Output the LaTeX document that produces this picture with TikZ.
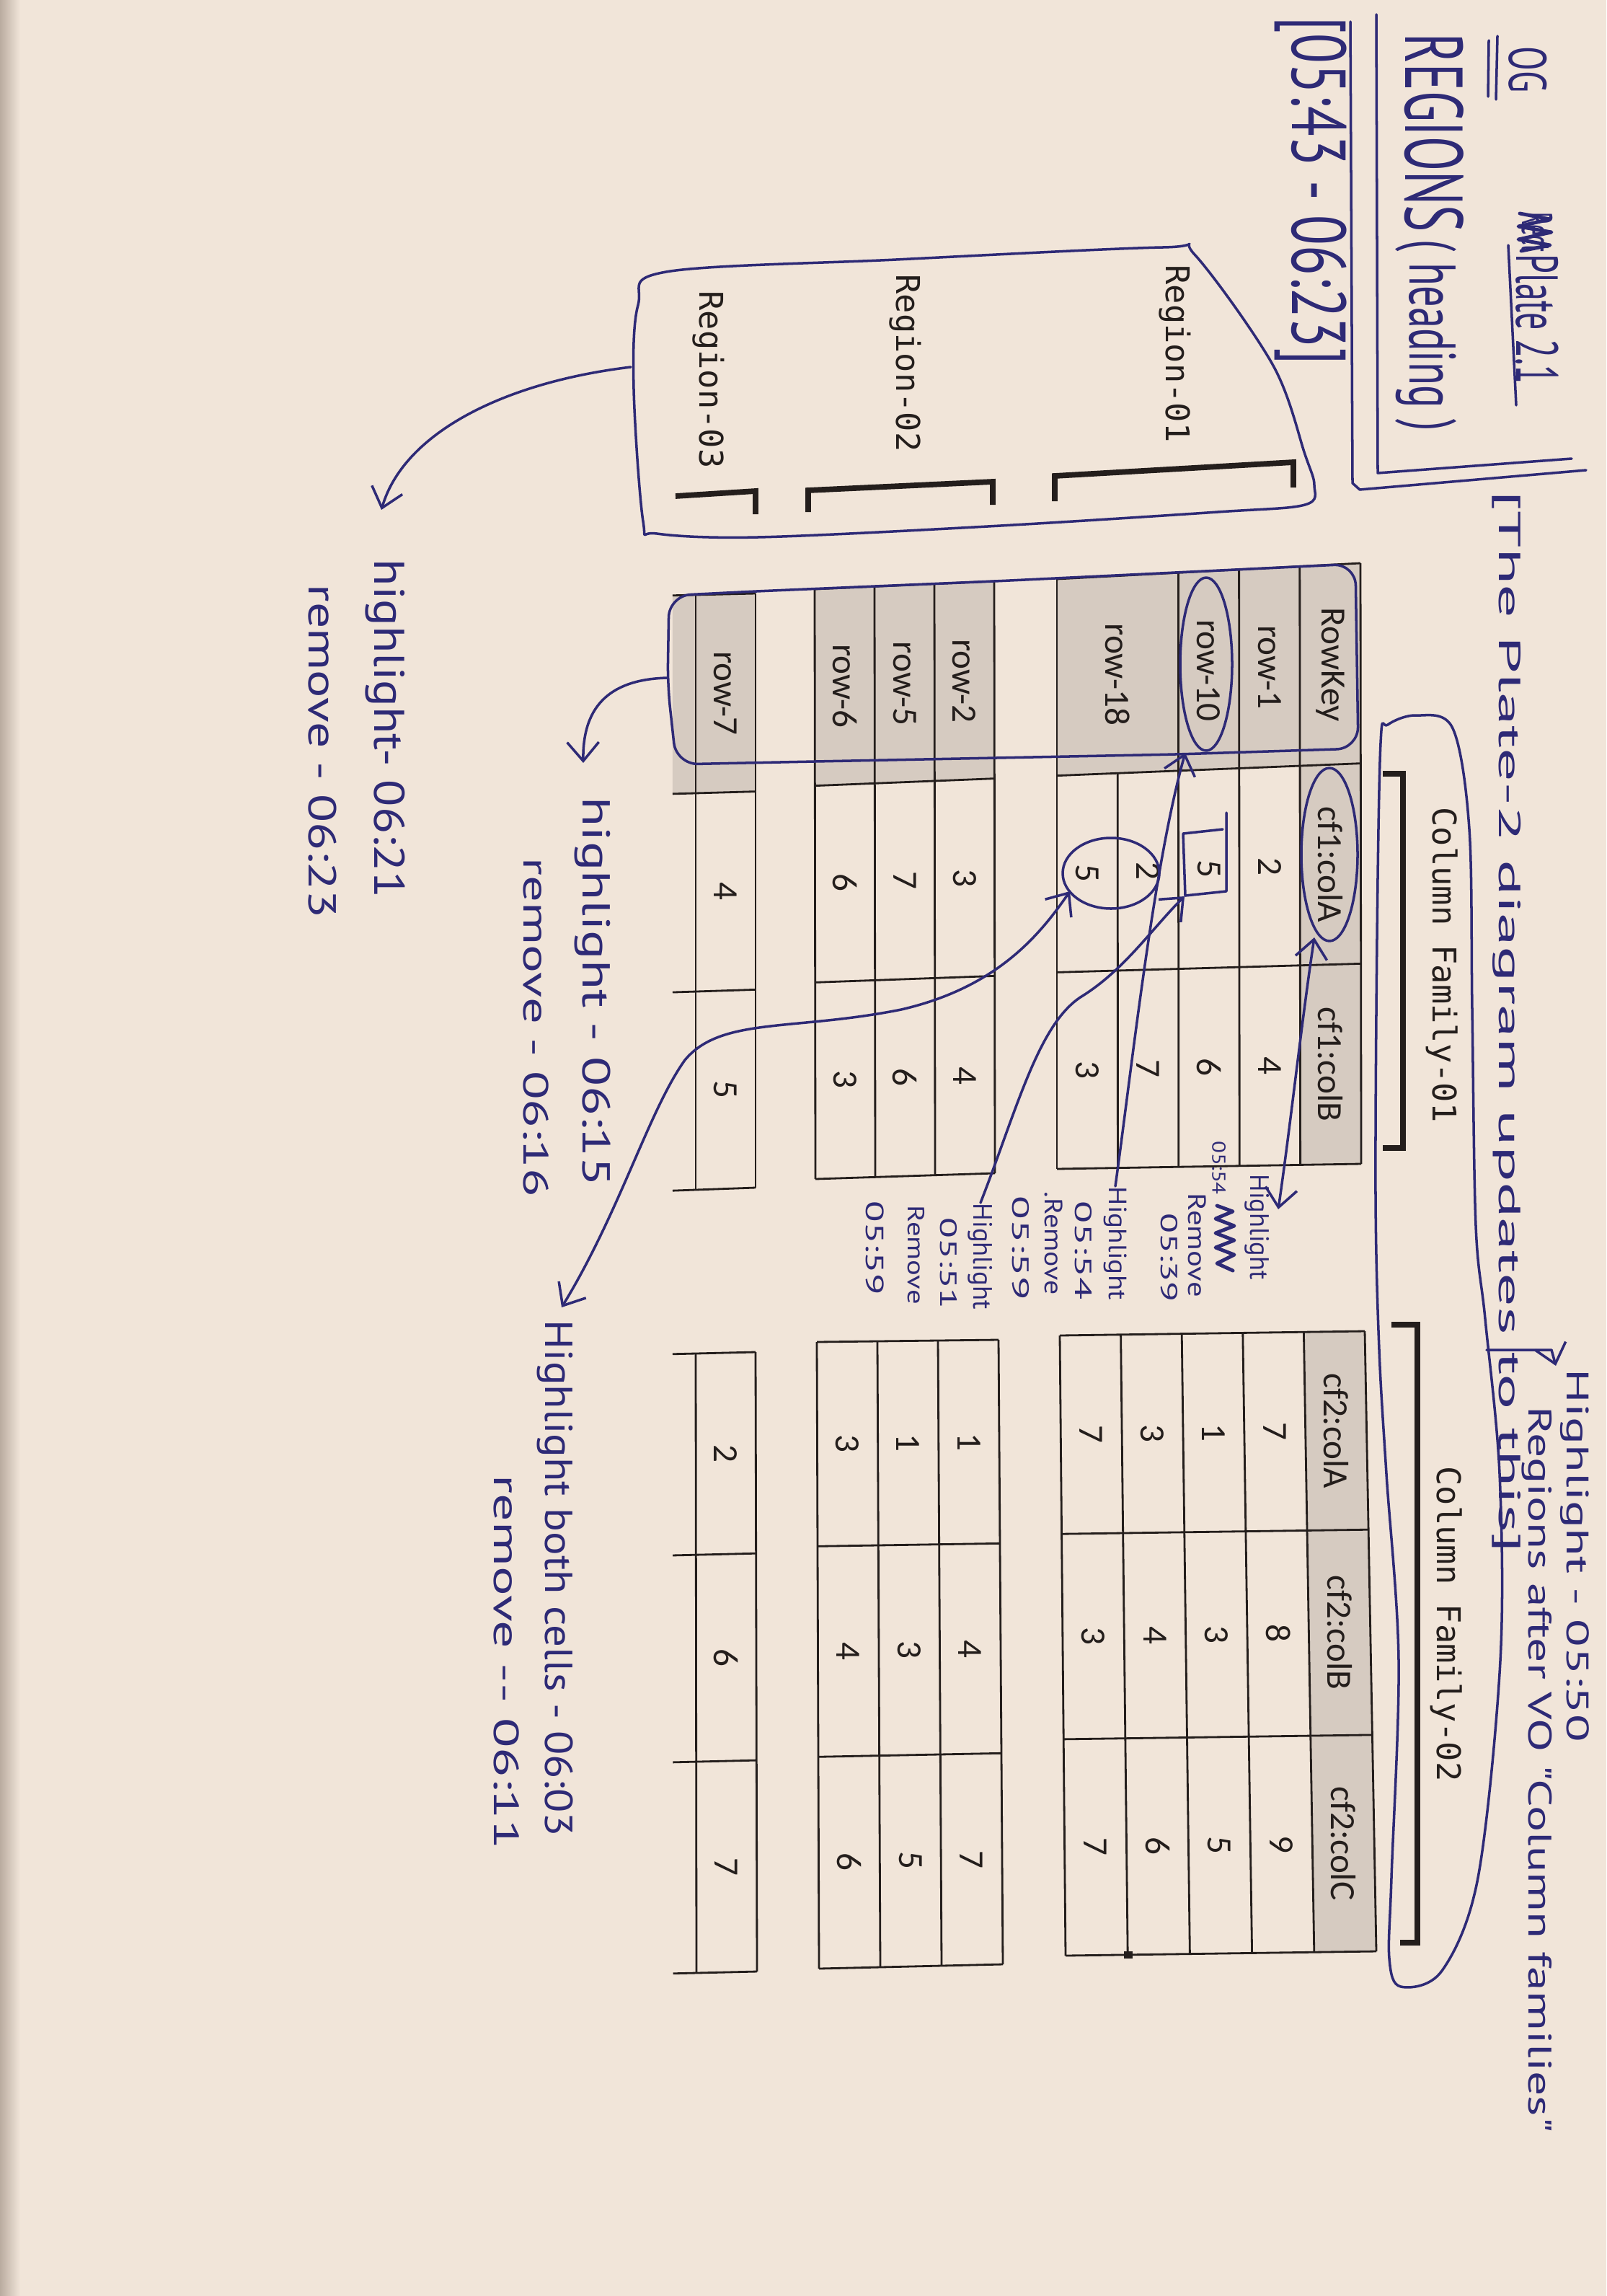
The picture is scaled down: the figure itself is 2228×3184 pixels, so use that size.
\documentclass[tikz,border=0pt]{standalone}
\usepackage{fontspec}
\usepackage{graphicx}
\setmainfont{PT Sans}
\newfontfamily\tabfont{Carlito}
\newfontfamily\monofnt{DejaVu Sans Mono}
\newfontfamily\handfnt{PT Sans}
\usetikzlibrary{calc,arrows.meta}
\newlength\pxu
\setlength\pxu{0.1mm}
\definecolor{paper}{RGB}{241,229,217}
\definecolor{paperedge}{RGB}{186,172,160}
\definecolor{cellgray}{RGB}{214,203,193}
\definecolor{print}{RGB}{36,30,28}
\definecolor{ink}{RGB}{46,42,118}
% handwritten text scaled to a given length and total height (in px units)
\newcommand\hw[3]{\resizebox*{#1\pxu}{#2\pxu}{\handfnt\vphantom{Hg}#3}}
% a printed table block given by its four corners
\newcommand\blk[5]{\coordinate (#1TL) at (#2);\coordinate (#1TR) at (#3);\coordinate (#1BL) at (#4);\coordinate (#1BR) at (#5);}
\newcommand\rowln[4]{\path ($(#1TL)!#2!(#1BL)$) coordinate (qa) ($(#1TR)!#2!(#1BR)$) coordinate (qb);\draw[tline] ($(qa)!#3!(qb)$) -- ($(qa)!#4!(qb)$);}
\newcommand\colln[4]{\path ($(#1TL)!#2!(#1TR)$) coordinate (qa) ($(#1BL)!#2!(#1BR)$) coordinate (qb);\draw[tline] ($(qa)!#3!(qb)$) -- ($(qa)!#4!(qb)$);}
\newcommand\shadecell[5]{\path ($(#1TL)!#2!(#1BL)$) coordinate (qa) ($(#1TR)!#2!(#1BR)$) coordinate (qb) ($(#1TL)!#3!(#1BL)$) coordinate (qc) ($(#1TR)!#3!(#1BR)$) coordinate (qd);\fill[cellgray] ($(qa)!#4!(qb)$) -- ($(qa)!#5!(qb)$) -- ($(qc)!#5!(qd)$) -- ($(qc)!#4!(qd)$) -- cycle;}
\newcommand\celltxt[5]{\path ($(#1TL)!#2!(#1BL)$) coordinate (qa) ($(#1TR)!#2!(#1BR)$) coordinate (qb);\node[cell] (#4) at ($(qa)!#3!(qb)$) {#5};}
\begin{document}
\begin{tikzpicture}[x=0.1mm, y=-0.1mm,
  tline/.style={draw=print, line width=0.8pt},
  brk/.style={draw=print, line width=2.2pt},
  cell/.style={rotate=-90, inner sep=0, text=print, font=\fontsize{14}{16}\selectfont\tabfont},
  monolbl/.style={rotate=-90, inner sep=0, text=print, font=\fontsize{12.9}{15}\selectfont\monofnt},
  hand/.style={rotate=-90, inner sep=0, anchor=west, text=ink},
  inkline/.style={draw=ink, line width=1pt, line cap=round, line join=round},
  inkarr/.style={inkline, -{Straight Barb[length=2.6mm,width=4.4mm]}},
  inkarrs/.style={inkline, {Straight Barb[length=2.6mm,width=4.4mm]}-{Straight Barb[length=2.6mm,width=4.4mm]}}]

% paper
\useasboundingbox (0,0) rectangle (2228,3184);
\fill[paper] (0,0) rectangle (2228,3184);
\shade[left color=paperedge, right color=paper] (0,0) rectangle (28,3184);

% ---------- printed tables ----------
\blk{A1}{1887,781}{1888,1614}{1466,803}{1466,1621}
\blk{A2}{1379,806}{1380,1627}{1130,817}{1131,1635}
\blk{A3}{1048,823}{1048,1647}{965,825}{965,1650}
\blk{B1}{1893,1846}{1909,2706}{1470,1852}{1478,2712}
\blk{B2}{1385,1858}{1391,2724}{1133,1861}{1136,2730}
\blk{B3}{1048,1875}{1050,2734}{965,1877}{966,2736}

% shaded header and row-key cells
\shadecell{A1}{0}{0.2}{0}{1}
\shadecell{A1}{0.2}{1}{0}{0.3333}
\shadecell{A2}{0}{1}{0}{0.3333}
\shadecell{A3}{0}{1.386}{0}{0.3333}
\shadecell{B1}{0}{0.2}{0}{1}

% grid lines, column family 01
\foreach \f in {0,0.2,0.4,0.6,1} {\rowln{A1}{\f}{0}{1}}
\rowln{A1}{0.8}{0.3333}{1}
\foreach \f in {0,0.3333,0.6667,1} {\colln{A1}{\f}{0}{1}}
\foreach \f in {0,0.3333,0.6667,1} {\rowln{A2}{\f}{0}{1}\colln{A2}{\f}{0}{1}}
\rowln{A3}{0}{0}{1}
\rowln{A3}{1}{0}{1}
\foreach \f in {0,0.3333,0.6667,1} {\colln{A3}{\f}{0}{1.386}}
% grid lines, column family 02
\foreach \f in {0,0.2,0.4,0.6,0.8,1} {\rowln{B1}{\f}{0}{1}}
\foreach \f in {0,0.32,0.651,1} {\colln{B1}{\f}{0}{1}}
\fill[print] (1559,2706) rectangle (1571,2716);
\foreach \f in {0,0.3333,0.6667,1} {\rowln{B2}{\f}{0}{1}}
\foreach \f in {0,0.326,0.662,1} {\colln{B2}{\f}{0}{1}}
\rowln{B3}{0}{0}{1}
\rowln{B3}{1}{0}{1}
\foreach \f in {0,0.325,0.659,1} {\colln{B3}{\f}{0}{1.386}}

% cell texts, column family 01
\celltxt{A1}{0.1}{0.1667}{a-rowkey}{RowKey}
\celltxt{A1}{0.1}{0.5}{a-cf1a}{cf1:colA}
\celltxt{A1}{0.1}{0.8333}{a-cf1b}{cf1:colB}
\celltxt{A1}{0.3}{0.1667}{a-row1}{row-1}
\celltxt{A1}{0.3}{0.5}{a-r1a}{2}
\celltxt{A1}{0.3}{0.8333}{a-r1b}{4}
\celltxt{A1}{0.5}{0.1667}{a-row10}{row-10}
\celltxt{A1}{0.5}{0.5}{a-r10a}{5}
\celltxt{A1}{0.5}{0.8333}{a-r10b}{6}
\celltxt{A1}{0.8}{0.1667}{a-row18}{row-18}
\celltxt{A1}{0.7}{0.5}{a-r18a}{2}
\celltxt{A1}{0.7}{0.8333}{a-r18b}{7}
\celltxt{A1}{0.9}{0.5}{a-r18c}{5}
\celltxt{A1}{0.9}{0.8333}{a-r18d}{3}
\celltxt{A2}{0.1667}{0.1667}{a-row2}{row-2}
\celltxt{A2}{0.1667}{0.5}{a-r2a}{3}
\celltxt{A2}{0.1667}{0.8333}{a-r2b}{4}
\celltxt{A2}{0.5}{0.1667}{a-row5}{row-5}
\celltxt{A2}{0.5}{0.5}{a-r5a}{7}
\celltxt{A2}{0.5}{0.8333}{a-r5b}{6}
\celltxt{A2}{0.8333}{0.1667}{a-row6}{row-6}
\celltxt{A2}{0.8333}{0.5}{a-r6a}{6}
\celltxt{A2}{0.8333}{0.8333}{a-r6b}{3}
\celltxt{A3}{0.5}{0.1667}{a-row7}{row-7}
\celltxt{A3}{0.5}{0.5}{a-r7a}{4}
\celltxt{A3}{0.5}{0.8333}{a-r7b}{5}
% cell texts, column family 02
\celltxt{B1}{0.1}{0.16}{b-cf2a}{cf2:colA}
\celltxt{B1}{0.1}{0.4855}{b-cf2b}{cf2:colB}
\celltxt{B1}{0.1}{0.8255}{b-cf2c}{cf2:colC}
\celltxt{B1}{0.3}{0.16}{b-r1a}{7}
\celltxt{B1}{0.3}{0.4855}{b-r1b}{8}
\celltxt{B1}{0.3}{0.8255}{b-r1c}{9}
\celltxt{B1}{0.5}{0.16}{b-r10a}{1}
\celltxt{B1}{0.5}{0.4855}{b-r10b}{3}
\celltxt{B1}{0.5}{0.8255}{b-r10c}{5}
\celltxt{B1}{0.7}{0.16}{b-r18a}{3}
\celltxt{B1}{0.7}{0.4855}{b-r18b}{4}
\celltxt{B1}{0.7}{0.8255}{b-r18c}{6}
\celltxt{B1}{0.9}{0.16}{b-r18d}{7}
\celltxt{B1}{0.9}{0.4855}{b-r18e}{3}
\celltxt{B1}{0.9}{0.8255}{b-r18f}{7}
\celltxt{B2}{0.1667}{0.163}{b-r2a}{1}
\celltxt{B2}{0.1667}{0.494}{b-r2b}{4}
\celltxt{B2}{0.1667}{0.831}{b-r2c}{7}
\celltxt{B2}{0.5}{0.163}{b-r5a}{1}
\celltxt{B2}{0.5}{0.494}{b-r5b}{3}
\celltxt{B2}{0.5}{0.831}{b-r5c}{5}
\celltxt{B2}{0.8333}{0.163}{b-r6a}{3}
\celltxt{B2}{0.8333}{0.494}{b-r6b}{4}
\celltxt{B2}{0.8333}{0.831}{b-r6c}{6}
\celltxt{B3}{0.5}{0.1625}{b-r7a}{2}
\celltxt{B3}{0.5}{0.492}{b-r7b}{6}
\celltxt{B3}{0.5}{0.8295}{b-r7c}{7}

% region and column family labels with their brackets
\node[monolbl, anchor=west] (reg1) at (1630,367) {Region-01};
\node[monolbl, anchor=west] (reg2) at (1256,380) {Region-02};
\node[monolbl, anchor=west] (reg3) at (983,403) {Region-03};
\draw[brk] (1463,695) -- (1463,660) -- (1794,641) -- (1794,676);
\draw[brk] (1121,710) -- (1121,680) -- (1377,668) -- (1377,700);
\draw[brk] (937,688) -- (1048,681) -- (1048,713);
\node[monolbl] (cf1) at (2000,1338) {Column Family-01};
\node[monolbl] (cf2) at (2006,2252) {Column Family-02};
\draw[brk] (1918,1073) -- (1946,1073) -- (1946,1592) -- (1918,1592);
\draw[brk] (1930,1837) -- (1966,1837) -- (1966,2694) -- (1942,2694);

% ---------- handwritten notes ----------
% title block
\node[hand] (t-og) at (2112,64) {\hw{64}{68}{OG}};
\node[hand] (t-rect) at (2126,294) {\hw{55}{55}{Rect}};
\draw[inkline, line width=1.4pt] (2108,296) -- (2150,304) -- (2106,314) -- (2152,322) -- (2106,332) -- (2150,340) -- (2110,348);
\node[hand] (t-plate) at (2124,352) {\hw{180}{76}{Plate 2.1}};
\draw[inkline] (2077,50) -- (2075,138);
\draw[inkline] (2065,56) -- (2064,134);
\draw[inkline] (2092,340) -- (2103,562);
\node[hand] (t-regions) at (1978,46) {\hw{275}{105}{REGIONS}};
\node[hand] (t-heading) at (1978,332) {\hw{265}{85}{( heading )}};
\node[hand] (t-time) at (1818,23) {\hw{482}{100}{[05:43 - 06:23]}};
\draw[inkline] (1909,20) -- (1911,656) -- (2180,636);
\draw[inkline] (1873,30) -- (1876,670) -- (1886,679) -- (2200,652);
\node[hand] (t-update) at (2090,680) {\hw{1473}{40}{[The Plate-2 diagram updates to this]}};

% loop round the region labels, and its note
\draw[inkline] plot[smooth cycle, tension=0.55] coordinates {(924,377) (1243,360) (1613,343) (1657,353) (1766,507) (1810,630) (1823,673) (1810,700) (1689,710) (1370,730) (1051,745) (911,740) (892,723) (879,540) (885,423)};
\coordinate (blobOut) at (875,509);
\coordinate (tip0621) at (529,707);
\draw[inkarr] (blobOut) .. controls (700,530) and (560,600) .. (tip0621);
\node[hand] (hl0621) at (534,775) {\hw{470}{55}{highlight- 06:21}};
\node[hand] (rm0623) at (442,810) {\hw{463}{50}{remove - 06:23}};

% loop round the row keys, and its note
\draw[inkline, rounded corners=3mm] (1880,782) -- (1884,1038) -- (1634,1046) -- (1130,1056) -- (938,1060) -- (926,950) -- (928,826) -- (1048,820) -- (1380,806) -- cycle;
\coordinate (keyOut) at (926,940);
\coordinate (tip0615) at (809,1058);
\draw[inkarr] (keyOut) .. controls (840,942) and (808,985) .. (tip0615);
\node[hand] (hl0615) at (822,1105) {\hw{540}{50}{highlight - 06:15}};
\node[hand] (rm0616) at (739,1189) {\hw{470}{45}{remove - 06:16}};

% marks on the cells
\draw[inkline] (1673,921) ellipse [x radius=3.6mm, y radius=12mm];
\draw[inkline] (1844,1185) ellipse [x radius=3.9mm, y radius=12mm];
\draw[inkline] (1541,1211) ellipse [x radius=6.7mm, y radius=4.9mm];
\draw[inkline] (1701,1127) -- (1701,1236) -- (1644,1242) -- (1641,1156) -- (1696,1150);

% note for cf1:colA
\node[hand] (nA1) at (1744,1628) {\hw{146}{34}{Highlight}};
\draw[inkline, line width=1.4pt] (1688,1672) -- (1710,1680) -- (1686,1690) -- (1712,1700) -- (1686,1710) -- (1712,1720) -- (1686,1730) -- (1712,1740) -- (1688,1752) -- (1710,1762);
\node[hand] (nA2) at (1688,1582) {\hw{74}{24}{05:54}};
\node[hand] (nA3) at (1657,1654) {\hw{144}{32}{Remove}};
\node[hand] (nA4) at (1619,1682) {\hw{123}{30}{05:39}};
\coordinate (colAtip) at (1823,1300);
\coordinate (nAtip) at (1773,1677);
\draw[inkarrs] (colAtip) .. controls (1805,1420) and (1790,1560) .. (nAtip);

% note for row-10
\node[hand] (nB1) at (1547,1645) {\hw{157}{32}{Highlight}};
\node[hand] (nB2) at (1500,1665) {\hw{137}{30}{05:54}};
\node[hand] (nB3) at (1458,1652) {\hw{143}{32}{.Remove}};
\node[hand] (nB4) at (1413,1658) {\hw{144}{30}{05:59}};
\coordinate (row10tip) at (1644,1044);
\draw[inkarr] (nB1.west) .. controls (1570,1480) and (1600,1200) .. (row10tip);

% note for the boxed 5
\node[hand] (nC1) at (1360,1668) {\hw{147}{34}{Highlight}};
\node[hand] (nC2) at (1313,1688) {\hw{127}{30}{05:51}};
\node[hand] (nC3) at (1268,1671) {\hw{137}{30}{Remove}};
\node[hand] (nC4) at (1210,1665) {\hw{130}{32}{05:59}};
\coordinate (boxtip) at (1643,1243);
\draw[inkarr] (nC1.west) .. controls (1410,1540) and (1440,1420) .. (1500,1382) .. controls (1560,1345) and (1600,1285) .. (boxtip);

% note for both cells of row-18
\coordinate (pairtip) at (1484,1236);
\coordinate (bothtip) at (779,1813);
\draw[inkarrs] (pairtip) .. controls (1440,1300) and (1380,1370) .. (1250,1400) .. controls (1100,1430) and (1000,1410) .. (950,1470) .. controls (900,1540) and (860,1680) .. (bothtip);
\node[hand] (hlboth) at (770,1830) {\hw{716}{50}{Highlight both cells - 06:03}};
\node[hand] (rm0611) at (698,2045) {\hw{519}{45}{remove -- 06:11}};

% loop round the column family labels, and its note
\draw[inkline] plot[smooth cycle, tension=0.55] coordinates {(1915,1030) (1910,1300) (1908,1660) (1913,1872) (1923,2044) (1940,2303) (1930,2604) (1927,2716) (1943,2755) (2000,2733) (2050,2604) (2081,2303) (2080,2044) (2060,1829) (2047,1700) (2042,1400) (2038,1150) (2015,1010) (1965,992) (1925,1005)};
\coordinate (cfOut) at (2062,1872);
\coordinate (cfTurn) at (2152,1872);
\coordinate (cfTip) at (2158,1894);
\draw[inkarr] (cfOut) -- (cfTurn) -- (cfTip);
\node[hand] (hl0550) at (2184,1898) {\hw{517}{40}{Highlight - 05:50}};
\node[hand] (rmcf) at (2132,1950) {\hw{1007}{42}{Regions after VO "Column families"}};
\end{tikzpicture}
\end{document}
